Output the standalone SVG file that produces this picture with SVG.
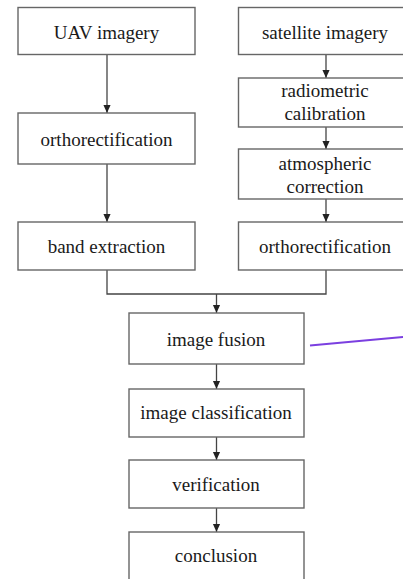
<svg xmlns="http://www.w3.org/2000/svg" width="403" height="579" viewBox="0 0 403 579">
<style>
.box{fill:#fff;stroke:#666;stroke-width:1.4}
.t{font-family:"Liberation Serif","Times New Roman",serif;font-size:19px;fill:#1a1a1a;text-anchor:middle}
.c{fill:none;stroke:#444;stroke-width:1.3}
</style>
<defs>
<marker id="a" markerWidth="8" markerHeight="9" refX="9" refY="4" orient="auto" markerUnits="userSpaceOnUse" viewBox="0 0 9 8">
<path d="M0,0 L9,4 L0,8 Z" fill="#222"/>
</marker>
</defs>
<rect width="403" height="579" fill="#fff"/>
<g id="connectors">
<line class="c" x1="107" y1="54" x2="107" y2="113" marker-end="url(#a)"/>
<line class="c" x1="107" y1="164" x2="107" y2="222" marker-end="url(#a)"/>
<line class="c" x1="326" y1="54" x2="326" y2="78" marker-end="url(#a)"/>
<line class="c" x1="326" y1="127" x2="326" y2="149" marker-end="url(#a)"/>
<line class="c" x1="326" y1="199" x2="326" y2="222" marker-end="url(#a)"/>
<polyline class="c" points="107,270 107,294 326,294 326,270"/>
<line class="c" x1="216.5" y1="294" x2="216.5" y2="313" marker-end="url(#a)"/>
<line class="c" x1="216.5" y1="364" x2="216.5" y2="389" marker-end="url(#a)"/>
<line class="c" x1="216.5" y1="437" x2="216.5" y2="460" marker-end="url(#a)"/>
<line class="c" x1="216.5" y1="508" x2="216.5" y2="532" marker-end="url(#a)"/>
<line x1="310" y1="345.5" x2="403" y2="337" stroke="#7b3fe0" stroke-width="2"/>
</g>
<g id="uav"><rect class="box" x="18" y="7.5" width="177" height="47"/><text class="t" x="106.5" y="38.5">UAV imagery</text></g>
<g id="ortho1"><rect class="box" x="18" y="113" width="177" height="51"/><text class="t" x="106.5" y="145.5">orthorectification</text></g>
<g id="band"><rect class="box" x="18" y="222" width="177" height="48"/><text class="t" x="106.5" y="252.5">band extraction</text></g>
<g id="sat"><rect class="box" x="238.5" y="7.5" width="170" height="47"/><text class="t" x="325" y="38.5">satellite imagery</text></g>
<g id="radio"><rect class="box" x="238.5" y="78" width="170" height="49"/><text class="t" x="325" y="97">radiometric</text><text class="t" x="325" y="120">calibration</text></g>
<g id="atmo"><rect class="box" x="238.5" y="149" width="170" height="50"/><text class="t" x="325" y="170">atmospheric</text><text class="t" x="325" y="193">correction</text></g>
<g id="ortho2"><rect class="box" x="238.5" y="222" width="170" height="48"/><text class="t" x="325" y="252.5">orthorectification</text></g>
<g id="fusion"><rect class="box" x="129" y="313" width="175" height="51"/><text class="t" x="216" y="345.5">image fusion</text></g>
<g id="classif"><rect class="box" x="129" y="389" width="175" height="48"/><text class="t" x="216" y="418.5">image classification</text></g>
<g id="verif"><rect class="box" x="129" y="460" width="175" height="48"/><text class="t" x="216" y="490.5">verification</text></g>
<g id="concl"><rect class="box" x="129" y="532" width="175" height="60"/><text class="t" x="216" y="561.5">conclusion</text></g>
</svg>
